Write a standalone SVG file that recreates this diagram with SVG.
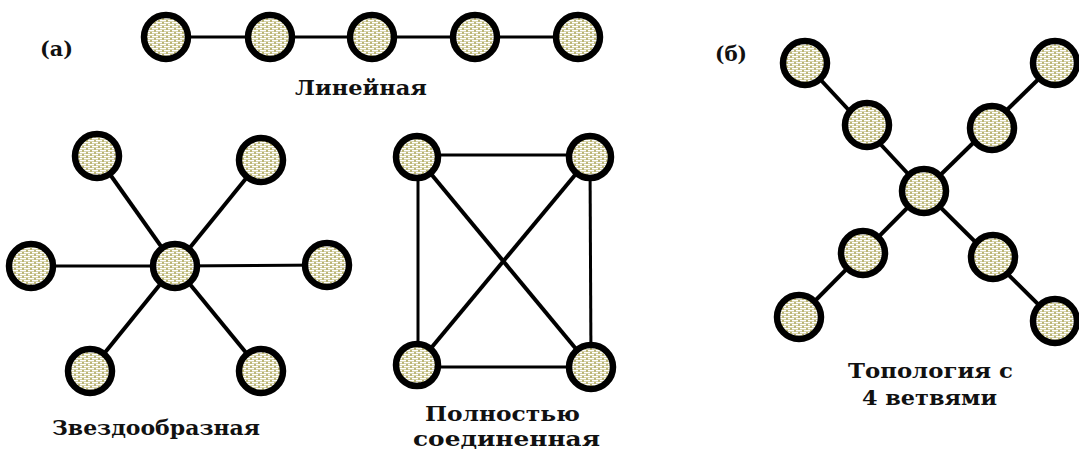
<svg xmlns="http://www.w3.org/2000/svg" width="1079" height="452" viewBox="0 0 1079 452">
<defs>
<pattern id="brick" width="8" height="4" patternUnits="userSpaceOnUse">
<rect width="8" height="4" fill="#bcb676"/>
<rect x="0" y="0" width="6" height="1.4" fill="#ffffff"/>
<rect x="4" y="2" width="6" height="1.4" fill="#ffffff"/>
<rect x="-4" y="2" width="6" height="1.4" fill="#ffffff"/>
</pattern>
</defs>
<style>
.n{fill:url(#brick);stroke:#000;stroke-width:6.5}
.e{stroke:#000;stroke-width:4;fill:none}
.h{stroke-width:3}
.t{font-family:"DejaVu Serif","Liberation Serif",serif;font-weight:bold;font-size:21px;fill:#111}
</style>
<rect width="1079" height="452" fill="#fff"/>
<g id="connectors">
<line class="e h" x1="166" y1="37" x2="578" y2="37"/>
<line class="e" x1="175" y1="266" x2="97" y2="156"/>
<line class="e" x1="175" y1="266" x2="261" y2="160"/>
<line class="e h" x1="175" y1="266" x2="31" y2="266"/>
<line class="e h" x1="175" y1="266" x2="327" y2="265"/>
<line class="e" x1="175" y1="266" x2="90" y2="371"/>
<line class="e" x1="175" y1="266" x2="261" y2="371"/>
<line class="e h" x1="417" y1="155" x2="590" y2="155"/>
<line class="e h" x1="417" y1="367" x2="591" y2="367"/>
<line class="e h" x1="418" y1="157" x2="418" y2="365"/>
<line class="e h" x1="590" y1="157" x2="591" y2="367"/>
<line class="e" x1="417" y1="157" x2="591" y2="367"/>
<line class="e" x1="590" y1="157" x2="417" y2="365"/>
<line class="e" x1="805" y1="63" x2="924" y2="191"/>
<line class="e" x1="1055" y1="63" x2="924" y2="191"/>
<line class="e" x1="799" y1="317" x2="924" y2="191"/>
<line class="e" x1="1055" y1="321" x2="924" y2="191"/>
</g>
<g id="linear">
<circle id="l1" class="n" cx="166" cy="37" r="22"/>
<circle id="l2" class="n" cx="270" cy="37" r="22"/>
<circle id="l3" class="n" cx="372" cy="37" r="22"/>
<circle id="l4" class="n" cx="475" cy="37" r="22"/>
<circle id="l5" class="n" cx="578" cy="37" r="22"/>
</g>
<g id="star">
<circle id="s0" class="n" cx="175" cy="266" r="22"/>
<circle id="s1" class="n" cx="97" cy="156" r="22"/>
<circle id="s2" class="n" cx="261" cy="160" r="22"/>
<circle id="s3" class="n" cx="31" cy="266" r="22"/>
<circle id="s4" class="n" cx="327" cy="265" r="22"/>
<circle id="s5" class="n" cx="90" cy="371" r="22"/>
<circle id="s6" class="n" cx="261" cy="371" r="22"/>
</g>
<g id="mesh">
<circle id="m1" class="n" cx="417" cy="157" r="21"/>
<circle id="m2" class="n" cx="590" cy="157" r="21"/>
<circle id="m3" class="n" cx="417" cy="365" r="21"/>
<circle id="m4" class="n" cx="591" cy="367" r="22"/>
</g>
<g id="tree">
<circle id="t0" class="n" cx="924" cy="191" r="22"/>
<circle id="t1" class="n" cx="805" cy="63" r="22"/>
<circle id="t2" class="n" cx="1055" cy="63" r="22"/>
<circle id="t3" class="n" cx="867" cy="125" r="22"/>
<circle id="t4" class="n" cx="992" cy="128" r="22"/>
<circle id="t5" class="n" cx="863" cy="253" r="22"/>
<circle id="t6" class="n" cx="993" cy="257" r="22"/>
<circle id="t7" class="n" cx="799" cy="317" r="22"/>
<circle id="t8" class="n" cx="1055" cy="321" r="22"/>
</g>
<g id="labels">
<text class="t" x="40" y="56" textLength="33" lengthAdjust="spacingAndGlyphs">(a)</text>
<text class="t" x="715" y="61" textLength="32" lengthAdjust="spacingAndGlyphs">(б)</text>
<text class="t" x="295" y="95" textLength="132" lengthAdjust="spacingAndGlyphs">Линейная</text>
<text class="t" x="52" y="435" textLength="208" lengthAdjust="spacingAndGlyphs">Звездообразная</text>
<text class="t" x="425" y="421" textLength="155" lengthAdjust="spacingAndGlyphs">Полностью</text>
<text class="t" x="413" y="446" textLength="187" lengthAdjust="spacingAndGlyphs">соединенная</text>
<text class="t" x="848" y="378" textLength="165" lengthAdjust="spacingAndGlyphs">Топология с</text>
<text class="t" x="862" y="405" textLength="135" lengthAdjust="spacingAndGlyphs">4 ветвями</text>
</g>
</svg>
